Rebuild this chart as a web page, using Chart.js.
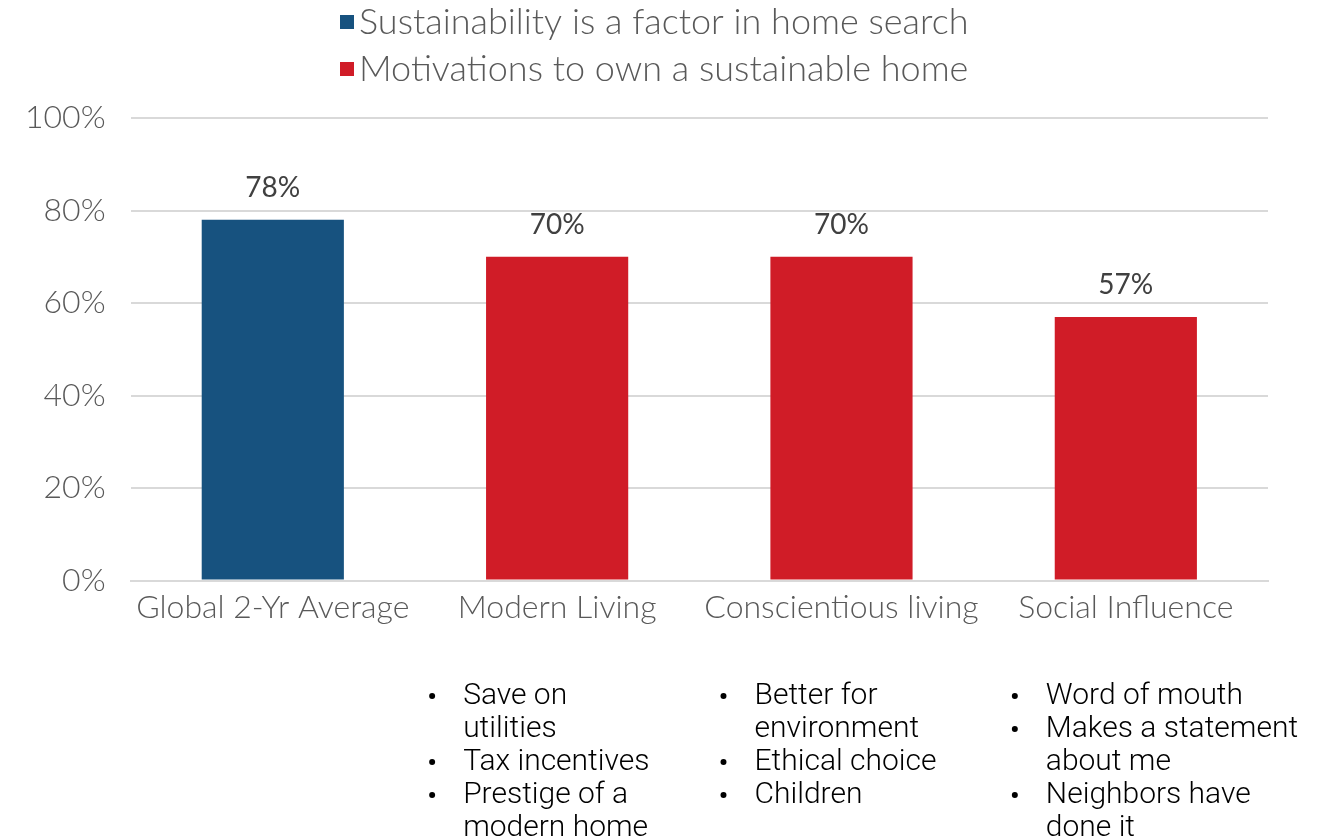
<!DOCTYPE html>
<html>
<head>
    <title>Sustainable Home Motivations</title>
    <style>
        body {
            margin: 0;
            background-color: #fff;
        }

        #chart-container {
            width: 1337px;
            height: 840px;
        }
    </style>
</head>
<body>
    <div id="chart-container">
        <canvas id="chart"></canvas>
    </div>

    <script src="https://cdn.jsdelivr.net/npm/chart.js"></script>
    <script>
        const categories = ['Global 2-Yr Average', 'Modern Living', 'Conscientious living', 'Social Influence'];
        const searchFactor = [78, null, null, null];
        const motivations = [null, 70, 70, 57];
        const seriesNames = ['Sustainability is a factor in home search', 'Motivations to own a sustainable home'];
        const yTicks = [0, 20, 40, 60, 80, 100];

        // bullet points listed under each category (first one has none)
        const reasons = [
            [],
            [['Save on', 'utilities'], ['Tax incentives'], ['Prestige of a', 'modern home']],
            [['Better for', 'environment'], ['Ethical choice'], ['Children']],
            [['Word of mouth'], ['Makes a statement', 'about me'], ['Neighbors have', 'done it']]
        ];

        const BLUE = '#17527f';
        const RED = '#d01c27';
        const FONT = "Lato, 'Noto Sans', sans-serif";

        // stacked legend, one series per row
        const stackedLegend = {
            id: 'stackedLegend',
            afterDraw(chart) {
                const ctx = chart.ctx;
                ctx.save();
                ctx.font = '300 36px ' + FONT;
                ctx.textBaseline = 'middle';
                ctx.textAlign = 'left';
                chart.data.datasets.forEach((ds, i) => {
                    const y = 22 + i * 47;
                    ctx.fillStyle = ds.backgroundColor;
                    ctx.fillRect(340, y - 7, 14, 14);
                    ctx.fillStyle = '#595959';
                    ctx.fillText(ds.label, 359, y);
                });
                ctx.restore();
            }
        };

        const valueLabels = {
            id: 'valueLabels',
            afterDatasetsDraw(chart) {
                const ctx = chart.ctx;
                ctx.save();
                ctx.font = '400 28px ' + FONT;
                ctx.fillStyle = '#404040';
                ctx.textAlign = 'center';
                ctx.textBaseline = 'middle';
                chart.data.datasets.forEach((ds, di) => {
                    chart.getDatasetMeta(di).data.forEach((bar, i) => {
                        if (ds.data[i] == null) return;
                        ctx.fillText(ds.data[i] + '%', bar.x, bar.y - 32);
                    });
                });
                ctx.restore();
            }
        };

        const reasonLists = {
            id: 'reasonLists',
            afterDraw(chart) {
                const ctx = chart.ctx;
                const x = chart.scales.x;
                ctx.save();
                ctx.font = "300 30px Roboto, 'DejaVu Sans Condensed', sans-serif";
                ctx.fillStyle = '#000';
                ctx.textBaseline = 'middle';
                ctx.textAlign = 'left';
                reasons.forEach((items, i) => {
                    const bx = x.getPixelForValue(i) - 132 + i * 7;
                    let y = 696;
                    items.forEach(lines => {
                        ctx.beginPath();
                        ctx.arc(bx, y, 3, 0, Math.PI * 2);
                        ctx.fill();
                        lines.forEach(line => {
                            ctx.fillText(line, bx + 31, y);
                            y += 33;
                        });
                    });
                });
                ctx.restore();
            }
        };

        const ctx = document.getElementById('chart').getContext('2d');
        new Chart(ctx, {
            type: 'bar',
            data: {
                labels: categories,
                datasets: [{
                    label: seriesNames[0],
                    data: searchFactor,
                    backgroundColor: BLUE
                }, {
                    label: seriesNames[1],
                    data: motivations,
                    backgroundColor: RED
                }]
            },
            options: {
                responsive: true,
                maintainAspectRatio: false,
                animation: false,
                layout: {
                    padding: { left: 0, right: 69, top: 118, bottom: 213 }
                },
                datasets: {
                    bar: {
                        grouped: false,
                        barPercentage: 0.5,
                        categoryPercentage: 1
                    }
                },
                plugins: {
                    legend: { display: false },
                    tooltip: { enabled: false }
                },
                scales: {
                    x: {
                        grid: { display: false },
                        border: { color: '#d9d9d9', width: 2 },
                        ticks: {
                            font: { family: FONT, size: 32, weight: 300 },
                            color: '#595959',
                            padding: 0
                        }
                    },
                    y: {
                        min: 0,
                        max: 100,
                        afterBuildTicks(axis) {
                            axis.ticks = yTicks.map(v => ({ value: v }));
                        },
                        grid: { color: '#d9d9d9', lineWidth: 2, drawTicks: false },
                        border: { display: false },
                        ticks: {
                            font: { family: FONT, size: 32, weight: 300 },
                            color: '#595959',
                            padding: 25,
                            callback: v => v + '%'
                        }
                    }
                }
            },
            plugins: [stackedLegend, valueLabels, reasonLists]
        });
    </script>
</body>
</html>
